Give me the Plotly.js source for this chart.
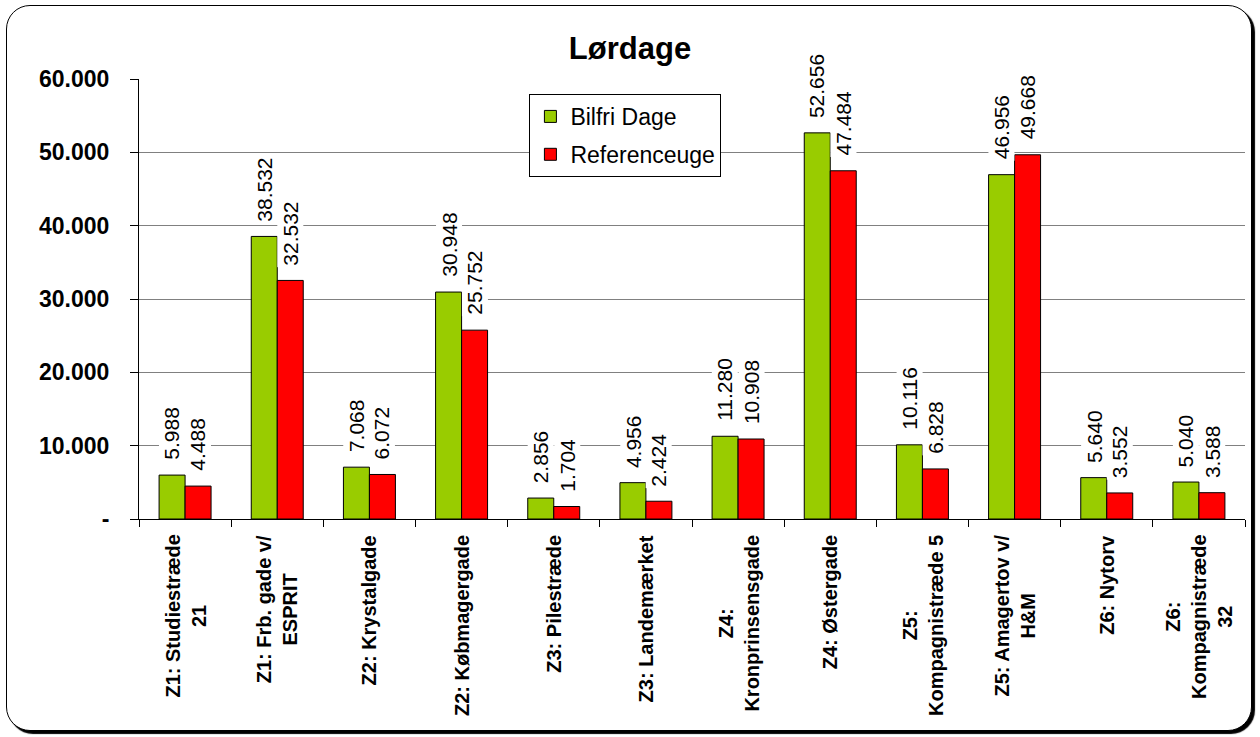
<!DOCTYPE html>
<html>
<head>
<meta charset="utf-8">
<script src="https://cdn.plot.ly/plotly-3.0.1.min.js"></script>
<style>
  html, body { margin: 0; padding: 0; background: #ffffff; }
  #frame { position: absolute; left: 6px; top: 5px; width: 1244px; height: 724px;
           border: 1.5px solid #000; border-radius: 24px; background: #fff;
           box-shadow: 3px 3px 1px 0px #000; }
  #chart { position: absolute; left: 0; top: 0; width: 1260px; height: 737px; }
</style>
</head>
<body>
<div id="frame"></div>
<div id="chart"></div>
<script>
const categories = [
  "Z1: Studiestræde<br>21",
  "Z1: Frb. gade v/<br>ESPRIT",
  "Z2: Krystalgade",
  "Z2: Købmagergade",
  "Z3: Pilestræde",
  "Z3: Landemærket",
  "Z4:<br>Kronprinsensgade",
  "Z4: Østergade",
  "Z5:<br>Kompagnistræde 5",
  "Z5: Amagertov v/<br>H&M",
  "Z6: Nytorv",
  "Z6:<br>Kompagnistræde<br>32"
];
const bilfriDage   = [5988, 38532, 7068, 30948, 2856, 4956, 11280, 52656, 10116, 46956, 5640, 5040];
const referenceuge = [4488, 32532, 6072, 25752, 1704, 2424, 10908, 47484, 6828, 49668, 3552, 3588];
const seriesNames = ["Bilfri Dage", "Referenceuge"];
const yTickVals = [0, 10000, 20000, 30000, 40000, 50000, 60000];
const yTickText = ["-", "10.000", "20.000", "30.000", "40.000", "50.000", "60.000"];
const chartTitle = "Lørdage";

function fmt(v) { return String(v).replace(/\B(?=(\d{3})+(?!\d))/g, "."); }

const FONT = "Arial, Liberation Sans, sans-serif";

const traces = [
  { type: "bar", name: seriesNames[0], x: categories, y: bilfriDage,
    marker: { color: "#99CC00", line: { color: "#000", width: 1 } },
    legendgroup: "a", hoverinfo: "none" },
  { type: "bar", name: seriesNames[1], x: categories, y: referenceuge,
    marker: { color: "#FF0000", line: { color: "#000", width: 1 } },
    legendgroup: "b", hoverinfo: "none" }
];

const annotations = [];
categories.forEach((c, i) => {
  annotations.push({ x: c, y: bilfriDage[i], xref: "x", yref: "y", text: fmt(bilfriDage[i]),
    textangle: -90, showarrow: false, xanchor: "center", yanchor: "bottom",
    xshift: -13, yshift: 13, bgcolor: "#fff", borderpad: 1,
    font: { family: FONT, size: 21, color: "#000" } });
  annotations.push({ x: c, y: referenceuge[i], xref: "x", yref: "y", text: fmt(referenceuge[i]),
    textangle: -90, showarrow: false, xanchor: "center", yanchor: "bottom",
    xshift: 13, yshift: 13, bgcolor: "#fff", borderpad: 1,
    font: { family: FONT, size: 21, color: "#000" } });
  annotations.push({ x: c, y: 0, xref: "x", yref: "paper", text: "<b>" + c + "</b>",
    textangle: -90, showarrow: false, xanchor: "center", yanchor: "top",
    yshift: -14, align: "center",
    font: { family: FONT, size: 20, color: "#000" } });
});

const layout = {
  width: 1260, height: 737,
  paper_bgcolor: "rgba(0,0,0,0)", plot_bgcolor: "rgba(0,0,0,0)",
  margin: { l: 139, r: 15, t: 79, b: 218 },
  title: { text: "<b>" + chartTitle + "</b>", x: 0.5, xanchor: "center", y: 0.935, yanchor: "middle",
    font: { family: FONT, size: 31, color: "#000" } },
  barmode: "group", bargap: 0.436, bargroupgap: 0,
  showlegend: true,
  legend: { x: 0.353, y: 0.966, xanchor: "left", yanchor: "top",
    bgcolor: "#fff", bordercolor: "#000", borderwidth: 1,
    traceorder: "grouped", tracegroupgap: 5,
    font: { family: FONT, size: 23, color: "#000" } },
  xaxis: { type: "category", showticklabels: false, ticks: "outside", ticklen: 7,
    tickcolor: "#000", tickson: "boundaries", showline: true, linecolor: "#000", linewidth: 1,
    showgrid: false, zeroline: false, fixedrange: true },
  yaxis: { range: [0, 60000], tickvals: yTickVals, ticktext: yTickText,
    ticks: "outside", ticklen: 8, tickcolor: "#000", showline: true, linecolor: "#000", linewidth: 1,
    showgrid: true, gridcolor: "#808080", gridwidth: 1, zeroline: false,
    ticklabelstandoff: 16,
    tickfont: { family: FONT, size: 23, color: "#000", weight: "bold" },
    fixedrange: true },
  annotations: annotations
};

Plotly.newPlot("chart", traces, layout, { displayModeBar: false, staticPlot: true });
</script>
</body>
</html>
